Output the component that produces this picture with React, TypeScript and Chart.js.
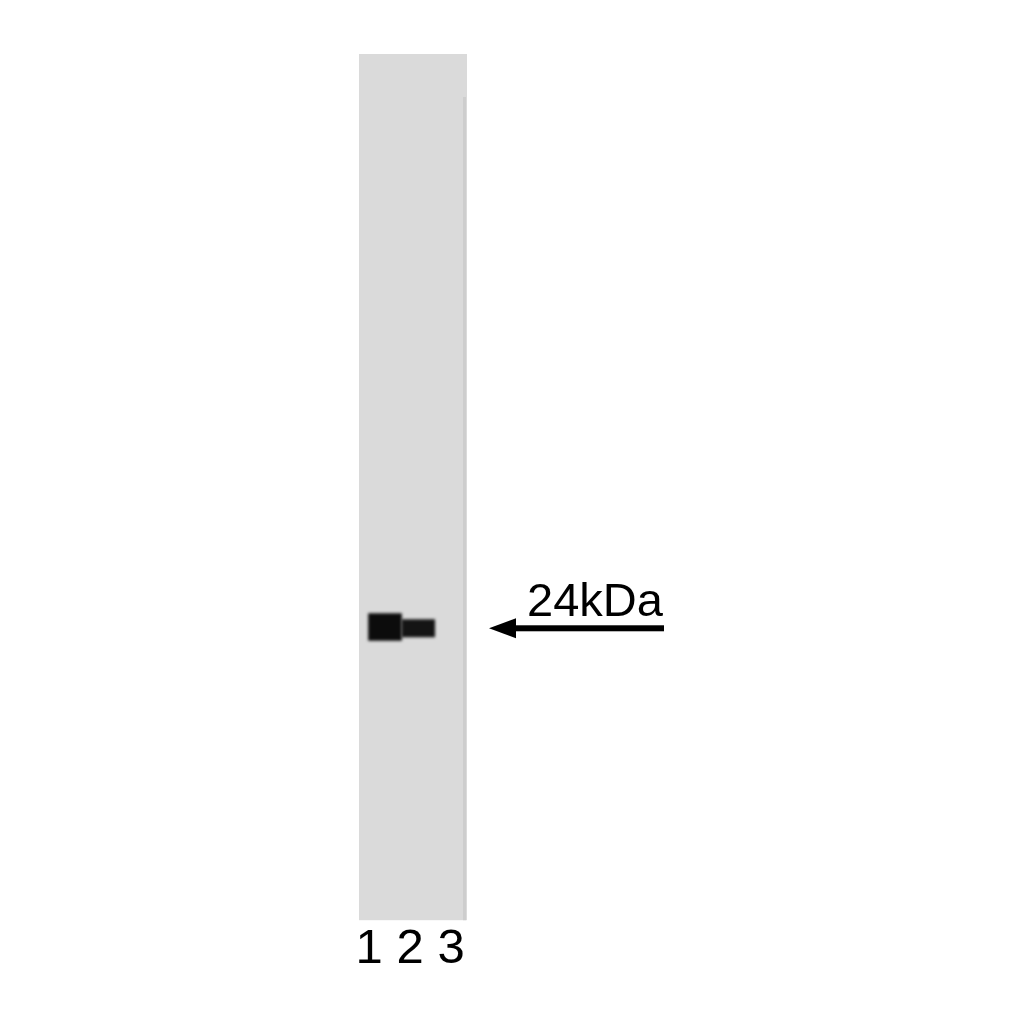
import { useEffect, useRef } from "react";
import { Chart, registerables } from "chart.js";

Chart.register(...registerables);

// Lane tick labels under the blot
const laneLabels = ["1", "2", "3"];
const laneTicks = [1, 2, 3];

// Detected bands: lane position, top and bottom of band (relative migration, % of strip)
const bandLanes = [1.39, 2.2];
const bandTop = [64.6, 65.3];
const bandBottom = [67.7, 67.3];

// Molecular-weight marker
const markerLabel = "24kDa";
const markerPosition = 66.3;

const FONT = '"Liberation Sans", Arial, Helvetica, sans-serif';

export default function App() {
  const ref = useRef<HTMLCanvasElement>(null);

  useEffect(() => {
    const canvas = ref.current;
    if (!canvas) return;

    const blotPlugin = {
      id: "blot",
      beforeDraw(chart: any) {
        const { ctx, chartArea: a } = chart;
        ctx.save();
        ctx.fillStyle = "#ffffff";
        ctx.fillRect(0, 0, chart.width, chart.height);
        ctx.fillStyle = "#dadada";
        ctx.fillRect(a.left, a.top, a.right - a.left, a.bottom - a.top);
        ctx.fillStyle = "#cdcdcd";
        ctx.fillRect(a.right - 4, a.top + 43, 3, a.bottom - a.top - 43);
        ctx.restore();
      },
      beforeDatasetDraw(chart: any) {
        chart.ctx.save();
        chart.ctx.filter = "blur(1.8px)";
      },
      afterDatasetDraw(chart: any) {
        chart.ctx.restore();
      },
      afterDraw(chart: any) {
        const { ctx, chartArea: a } = chart;
        const y = chart.scales.y.getPixelForValue(markerPosition);
        const tip = a.right + 22;
        ctx.save();
        ctx.fillStyle = "#000";
        ctx.beginPath();
        ctx.moveTo(tip, y);
        ctx.lineTo(tip + 27, y - 10);
        ctx.lineTo(tip + 27, y + 10);
        ctx.closePath();
        ctx.fill();
        ctx.fillRect(tip + 20, y - 3, a.right + 197 - (tip + 20), 6);
        ctx.font = `47px ${FONT}`;
        ctx.textBaseline = "alphabetic";
        ctx.textAlign = "left";
        ctx.fillText(markerLabel, a.right + 60, y - 12);
        ctx.restore();
      },
    };

    const chart = new Chart(canvas, {
      type: "bar",
      data: {
        datasets: [
          {
            label: "band",
            data: bandLanes.map((x, i) => ({ x, y: [bandTop[i], bandBottom[i]] })) as any,
            backgroundColor: ["#0c0c0c", "#141414"],
            borderWidth: 0,
            barThickness: 33,
            grouped: false,
          } as any,
        ],
      },
      options: {
        animation: false,
        responsive: false,
        devicePixelRatio: 1,
        layout: { padding: { left: 359, right: 557, top: 54, bottom: 45 } },
        plugins: { legend: { display: false }, tooltip: { enabled: false } },
        scales: {
          x: {
            type: "linear",
            min: 0.756,
            max: 3.39,
            offset: false,
            grid: { display: false, drawTicks: false, offset: false },
            border: { display: false },
            afterBuildTicks: (s: any) => {
              s.ticks = laneTicks.map((v) => ({ value: v }));
            },
            ticks: {
              padding: 0,
              color: "#000",
              autoSkip: false,
              maxRotation: 0,
              font: { family: FONT, size: 49 },
              callback: (v: any) => laneLabels[laneTicks.indexOf(Number(v))] ?? "",
            },
          },
          y: {
            type: "linear",
            min: 0,
            max: 100,
            reverse: true,
            display: false,
          },
        },
      },
      plugins: [blotPlugin],
    });

    return () => chart.destroy();
  }, []);

  return (
    <canvas
      ref={ref}
      width={1024}
      height={1024}
      style={{ position: "absolute", left: 0, top: 0, width: 1024, height: 1024 }}
    />
  );
}
